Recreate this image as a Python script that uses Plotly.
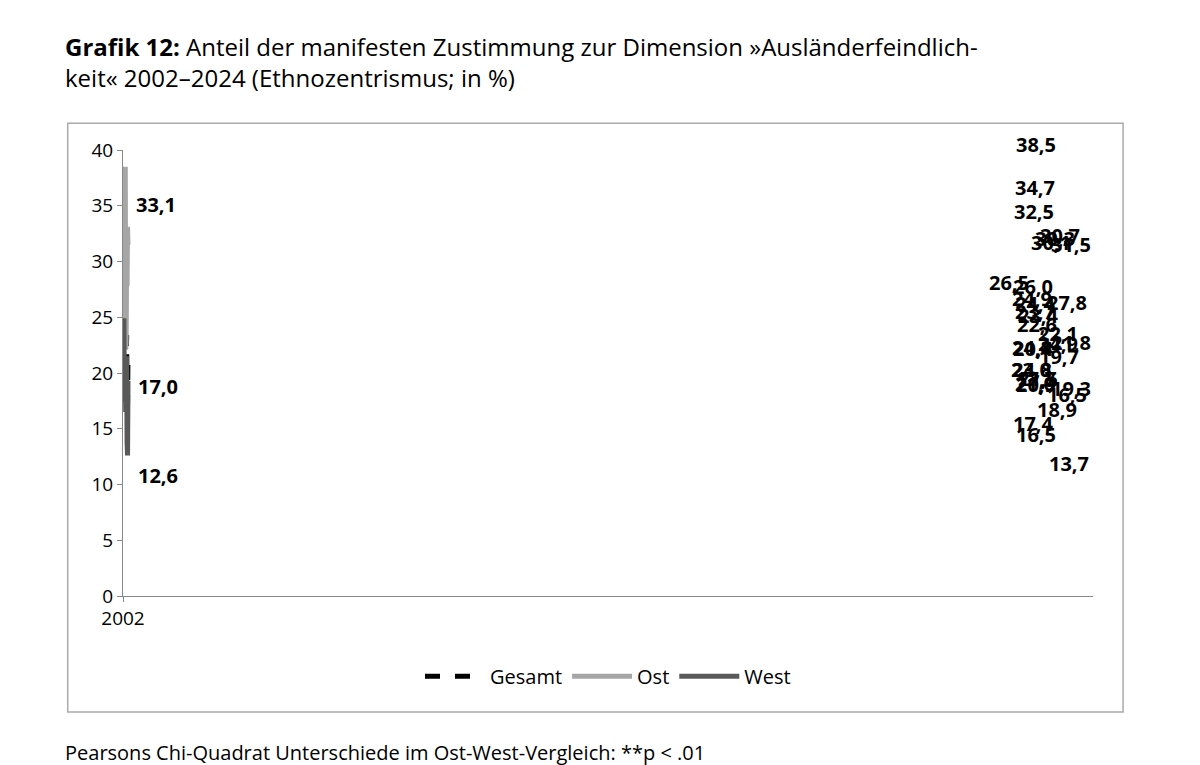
import plotly.graph_objects as go

years = ["2002","2004","2006","2008","2010","2012","2014","2016","2018","2020","2022**","2024"]
gesamt = [26.5,24.8,26.0,20.4,23.7,24.4,17.7,19.7,23.4,16.5,17.0,21.8]
ost = [30.1,24.9,30.3,32.5,34.7,38.5,22.1,22.6,30.7,27.8,33.1,31.5]
west = [23.0,24.8,24.9,17.4,21.0,20.9,16.5,18.9,21.5,13.7,12.6,19.3]

# label offsets (px): (xshift, yshift)
ost_off = [(20,18),(0,20),(22,20),(0,22),(0,22),(0,22),(22,16),(0,20),(22,18),(28,-16),(28,22),(30,0)]
ges_off = [(-22,18),(0,-28),(0,20),(0,20),(0,20),(0,20),(0,20),(22,20),(0,20),(28,18),(30,20),(30,10)]
west_off = [(0,-30),(0,-50),(25,-25),(0,-22),(0,-22),(0,-22),(0,-22),(20,-24),(0,-22),(30,-20),(30,-20),(30,-8)]

fig = go.Figure()
fig.add_trace(go.Scatter(x=years, y=gesamt, name="Gesamt", mode="lines",
    line=dict(color="black", width=5, dash="dash")))
fig.add_trace(go.Scatter(x=years, y=ost, name="Ost", mode="lines",
    line=dict(color="#a6a6a6", width=5)))
fig.add_trace(go.Scatter(x=years, y=west, name="West", mode="lines",
    line=dict(color="#595959", width=5)))

def fmt(v):
    return f"{v:.1f}".replace(".", ",")

anns = []
for vals, offs in [(ost, ost_off), (gesamt, ges_off), (west, west_off)]:
    for x, v, (dx, dy) in zip(years, vals, offs):
        anns.append(dict(x=x, y=v, text=f"<b>{fmt(v)}</b>", showarrow=False,
                         xshift=dx, yshift=dy, font=dict(size=20, color="black")))

anns.append(dict(xref="paper", yref="paper", x=-0.062, y=1.12, xanchor="left", yanchor="bottom",
    showarrow=False, align="left",
    text="<b>Grafik 12:</b> Anteil der manifesten Zustimmung zur Dimension »Ausländerfeindlich-<br>keit« 2002–2024 (Ethnozentrismus; in %)",
    font=dict(size=24, color="black")))
anns.append(dict(xref="paper", yref="paper", x=-0.062, y=-0.35, xanchor="left", yanchor="middle",
    showarrow=False, text="Pearsons Chi-Quadrat Unterschiede im Ost-West-Vergleich: **p < .01",
    font=dict(size=20, color="black")))

fig.update_layout(
    width=1200, height=765, plot_bgcolor="white", paper_bgcolor="white",
    font=dict(family="Open Sans, DejaVu Sans", color="black"),
    margin=dict(l=115, r=115, t=142, b=177),
    showlegend=True,
    legend=dict(orientation="h", x=0.5, xanchor="center", y=-0.18, yanchor="middle",
                font=dict(size=20), traceorder="normal", itemwidth=60),
    annotations=anns,
    shapes=[dict(type="rect", xref="paper", yref="paper", x0=-0.057, x1=1.031, y0=-0.26, y1=1.06,
                 line=dict(color="#aaaaaa", width=1.5))],
)
fig.update_xaxes(type="category", showline=True, linecolor="#888", ticks="outside", tickcolor="#888",
                 tickfont=dict(size=19), showgrid=False)
fig.update_yaxes(range=[0, 40], dtick=5, showline=True, linecolor="#888", ticks="outside",
                 tickcolor="#888", tickfont=dict(size=19), showgrid=False, zeroline=False)
fig.write_html("out.html")
